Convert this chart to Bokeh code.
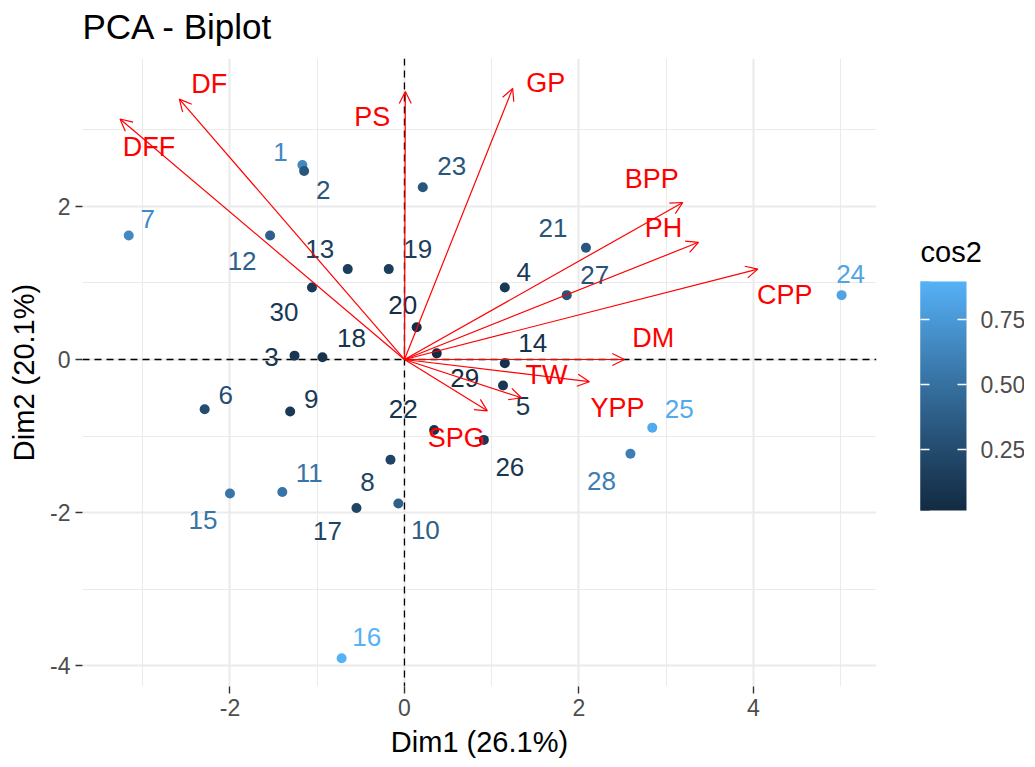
import numpy as np
from bokeh.plotting import figure
from bokeh.models import (ColumnDataSource, LinearColorMapper, ColorBar, FixedTicker,
                          PrintfTickFormatter, Arrow, OpenHead, Span)
from bokeh.core.properties import value
from bokeh.embed import file_html
from bokeh.resources import INLINE

# ---------------- data ----------------
ind_names = [str(i) for i in range(1, 31)]
ind_dim1 = [-1.17, -1.15, -1.26, 1.15, 1.13, -2.29, -3.16, -0.16, -1.31, -0.07,
            -1.40, -1.54, -0.65, 1.15, -2.00, -0.72, -0.55, -0.94, -0.18, 0.14,
            2.08, 0.34, 0.21, 5.01, 2.84, 0.91, 1.86, 2.59, 0.37, -1.06]
ind_dim2 = [2.54, 2.46, 0.05, 0.94, -0.34, -0.65, 1.62, -1.31, -0.68, -1.88,
            -1.73, 1.62, 1.18, -0.05, -1.75, -3.90, -1.94, 0.03, 1.18, 0.42,
            1.46, -0.92, 2.25, 0.84, -0.89, -1.05, 0.84, -1.23, 0.08, 0.94]
ind_cos2 = [0.65, 0.32, 0.10, 0.12, 0.10, 0.26, 0.65, 0.20, 0.12, 0.39,
            0.52, 0.39, 0.15, 0.06, 0.52, 0.896, 0.20, 0.08, 0.15, 0.04,
            0.32, 0.08, 0.32, 0.82, 0.85, 0.10, 0.30, 0.59, 0.015, 0.12]

var_names = ["DF", "DFF", "PS", "GP", "BPP", "PH", "CPP", "DM", "TW", "YPP", "SPG"]
var_dim1 = [-2.58, -3.26, 0.01, 1.24, 3.19, 3.37, 4.05, 2.52, 1.34, 2.12, 0.95]
var_dim2 = [3.40, 3.14, 3.50, 3.54, 2.05, 1.53, 1.18, 0.00, -0.50, -0.29, -0.67]

x_ticks = [-2, 0, 2, 4]
x_tick_labels = ["-2", "0", "2", "4"]
x_minor = [-3, -1, 1, 3, 5]
y_ticks = [-4, -2, 0, 2]
y_tick_labels = ["-4", "-2", "0", "2"]
y_minor = [-3, -1, 1, 3]
cb_ticks = [0.25, 0.50, 0.75]
legend_title = "cos2"
plot_title = "PCA - Biplot"

# label placement (repelled offsets, screen px)
ind_dx = [-22, 19, -23, 19, 20, 21, 19, -23, 21, 27, 27, -28, -28, 28, -27, 25, -29, 29, 29, -14,
          -33, -31, 29, 9, 27, 26, 28, -29, 28, -28]
ind_dy = [-13, 19, 1, -15, 20, -14, -16, 22, -13, 27, -19, 26, -20, -20, 26, -21, 23, -19, -20, -22,
          -20, -21, -21, -21, -19, 27, -20, 27, 25, 25]
var_dx = [30, 29, -33, 33, -31, -35, 27, 29, 25, 28, -31]
var_dy = [-15, 28, 26, -5, -23, -14, 26, -21, -23, 26, 27]

FONT = "Liberation Sans"

# ---------------- palette (ggplot2 default gradient, Lab interpolation) ----------------
M = np.array([[0.4124564, 0.3575761, 0.1804375],
              [0.2126729, 0.7151522, 0.0721750],
              [0.0193339, 0.1191920, 0.9503041]])
Minv = np.linalg.inv(M)
WHITE = M @ np.ones(3)
D = 6 / 29

def _f(t):
    return np.where(t > D ** 3, np.cbrt(t), t / (3 * D * D) + 4 / 29)

def _finv(t):
    return np.where(t > D, t ** 3, 3 * D * D * (t - 4 / 29))

def hex2lab(h):
    c = np.array([int(h[i:i + 2], 16) for i in (1, 3, 5)]) / 255.0
    lin = np.where(c <= 0.04045, c / 12.92, ((c + 0.055) / 1.055) ** 2.4)
    fx, fy, fz = _f((M @ lin) / WHITE)
    return np.array([116 * fy - 16, 500 * (fx - fy), 200 * (fy - fz)])

def lab2hex(lab):
    L, a, b = lab
    fy = (L + 16) / 116
    fx = fy + a / 500
    fz = fy - b / 200
    xyz = np.array([_finv(fx), _finv(fy), _finv(fz)]) * WHITE
    lin = np.clip(Minv @ xyz, 0, 1)
    c = np.where(lin <= 0.0031308, 12.92 * lin, 1.055 * lin ** (1 / 2.4) - 0.055)
    c = np.clip(np.round(c * 255), 0, 255).astype(int)
    return "#%02x%02x%02x" % tuple(c)

lo, hi = hex2lab("#132B43"), hex2lab("#56B1F7")
palette = [lab2hex(lo + (hi - lo) * t) for t in np.linspace(0, 1, 256)]
mapper = LinearColorMapper(palette=palette, low=min(ind_cos2), high=max(ind_cos2))

# ---------------- figure ----------------
p = figure(frame_width=794, frame_height=628,
           x_range=(-3.69, 5.41), y_range=(-4.27, 3.93),
           output_backend="svg", toolbar_location=None,
           min_border_left=82, min_border_top=58, min_border_bottom=73, min_border_right=148,
           background_fill_color="white", border_fill_color="white")
p.outline_line_color = None
p.title.visible = False

for ax, ticks, minor, labels, title in ((p.xaxis[0], x_ticks, x_minor, x_tick_labels, "Dim1 (26.1%)"),
                                         (p.yaxis[0], y_ticks, y_minor, y_tick_labels, "Dim2 (20.1%)")):
    ax.ticker = FixedTicker(ticks=ticks, minor_ticks=minor)
    ax.major_label_overrides = {t: l for t, l in zip(ticks, labels)}
    ax.axis_label = title
    ax.axis_label_text_font = FONT
    ax.axis_label_text_font_size = "29px"
    ax.axis_label_text_font_style = "normal"
    ax.axis_label_text_color = "black"
    ax.major_label_text_font = FONT
    ax.major_label_text_font_size = "23px"
    ax.major_label_text_color = "#4D4D4D"
    ax.axis_line_color = None
    ax.major_tick_line_color = "#333333"
    ax.major_tick_line_width = 1.4
    ax.major_tick_out = 7
    ax.major_tick_in = 0
    ax.minor_tick_line_color = None
    ax.major_label_standoff = 5
    ax.axis_label_standoff = 7
p.yaxis[0].major_label_orientation = "horizontal"

for g, ticks, minor in ((p.xgrid[0], x_ticks, x_minor), (p.ygrid[0], y_ticks, y_minor)):
    g.ticker = FixedTicker(ticks=ticks, minor_ticks=minor)
    g.grid_line_color = "#EBEBEB"
    g.grid_line_width = 2.1
    g.minor_grid_line_color = "#EBEBEB"
    g.minor_grid_line_width = 1.1

# reference lines
for dim in ("height", "width"):
    p.add_layout(Span(location=0, dimension=dim, line_color="black", line_width=1.3,
                      line_dash="7 5", level="underlay"))

# individuals
ind_src = ColumnDataSource(dict(x=ind_dim1, y=ind_dim2, name=ind_names, cos2=ind_cos2,
                                dx=ind_dx, dy=ind_dy))
cmap = {"field": "cos2", "transform": mapper}
p.scatter("x", "y", source=ind_src, size=10, fill_color=cmap, line_color=None)
p.text("x", "y", text="name", source=ind_src, x_offset="dx", y_offset="dy",
       text_color=cmap, text_font=value(FONT), text_font_size=value("26px"),
       text_align="center", text_baseline="middle")

# variables
var_src = ColumnDataSource(dict(x=var_dim1, y=var_dim2, name=var_names, dx=var_dx, dy=var_dy))
p.add_layout(Arrow(end=OpenHead(size=12, line_color="red", line_width=1.2),
                   x_start=0, y_start=0, x_end="x", y_end="y", source=var_src,
                   line_color="red", line_width=1.2))
p.text("x", "y", text="name", source=var_src, x_offset="dx", y_offset="dy",
       text_color="red", text_font=value(FONT), text_font_size=value("27px"),
       text_align="center", text_baseline="middle")

# colour bar beside the panel (ticks drawn on both edges, like ggplot's colourbar)
common = dict(color_mapper=mapper, ticker=FixedTicker(ticks=cb_ticks),
              formatter=PrintfTickFormatter(format="%.2f"), height=229,
              orientation="vertical", major_label_text_font=FONT,
              major_label_text_font_size="23px", label_standoff=14,
              major_tick_line_color="white", major_tick_line_width=1.4,
              major_tick_out=0, minor_tick_line_color=None,
              bar_line_color=None, border_line_color=None, background_fill_color=None,
              location=(828, 166), margin=0, padding=10)
p.add_layout(ColorBar(width=46, major_tick_in=9, major_label_text_color="#4D4D4D", **common), "center")
p.add_layout(ColorBar(width=9, major_tick_in=9, major_label_text_color=None, **common), "center")


def text_holder(text, size, loc):
    """An invisible horizontal bar whose (horizontal) title carries a free-standing text."""
    return ColorBar(color_mapper=mapper, orientation="horizontal", width=60, height=1,
                    scale_alpha=0, ticker=FixedTicker(ticks=[]),
                    major_tick_line_color=None, minor_tick_line_color=None,
                    major_label_text_color=None, bar_line_color=None,
                    border_line_color=None, background_fill_color=None,
                    title=text, title_text_font=FONT, title_text_font_size=size,
                    title_text_font_style="normal", title_text_color="black",
                    title_standoff=0, location=loc, margin=0, padding=0)


p.add_layout(text_holder(legend_title, "29px", (838, 418)), "center")
p.add_layout(text_holder(plot_title, "35px", (0, 640)), "center")

open("out.html", "w").write(file_html(p, INLINE))
